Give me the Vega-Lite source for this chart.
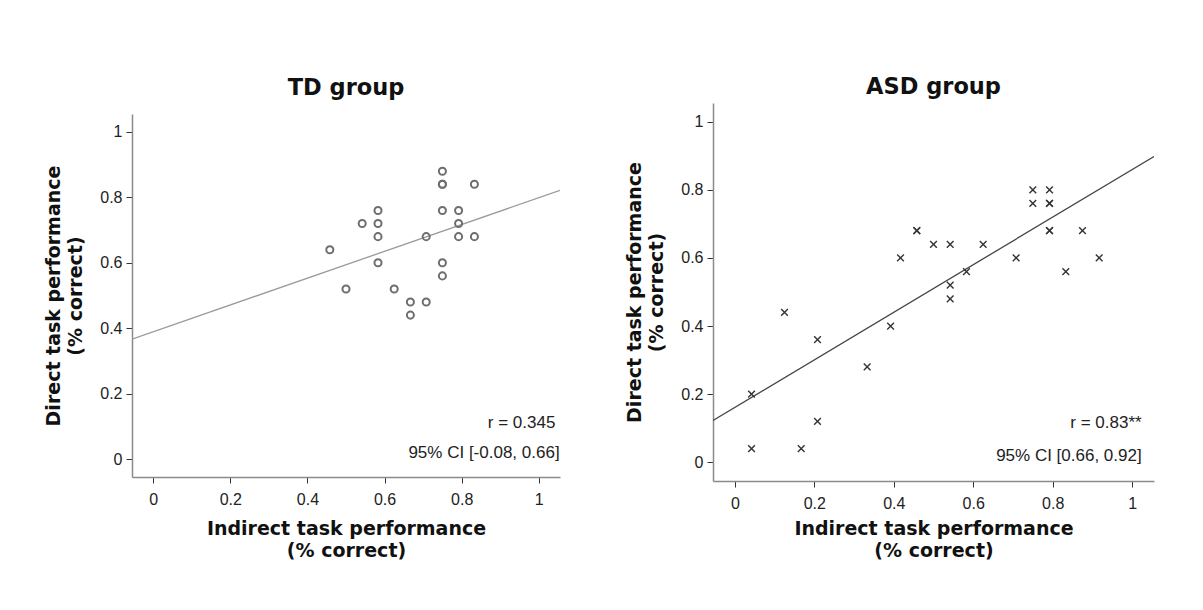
{
  "$schema": "https://vega.github.io/schema/vega-lite/v6.json",
  "background": "white",
  "padding": {"left": 44, "top": 75, "right": 5, "bottom": 5},
  "spacing": 65,
  "config": {
    "view": {"stroke": null},
    "axis": {
      "grid": false,
      "domainColor": "#8a8a8a",
      "domainWidth": 1.5,
      "tickColor": "#333333",
      "tickSize": 6,
      "labelFont": "Liberation Sans",
      "labelFontSize": 16,
      "labelColor": "#222222",
      "titleFont": "DejaVu Sans",
      "titleFontWeight": "bold",
      "titleFontSize": 19,
      "titleColor": "#111111",
      "titleLineHeight": 22
    },
    "title": {"font": "DejaVu Sans", "fontSize": 22.5, "fontWeight": "bold", "color": "#111111", "anchor": "middle"}
  },
  "datasets": {
    "td": [
      {"indirect": 0.458, "direct": 0.64},
      {"indirect": 0.5, "direct": 0.52},
      {"indirect": 0.542, "direct": 0.72},
      {"indirect": 0.583, "direct": 0.76},
      {"indirect": 0.583, "direct": 0.72},
      {"indirect": 0.583, "direct": 0.68},
      {"indirect": 0.583, "direct": 0.6},
      {"indirect": 0.625, "direct": 0.52},
      {"indirect": 0.667, "direct": 0.48},
      {"indirect": 0.667, "direct": 0.44},
      {"indirect": 0.708, "direct": 0.68},
      {"indirect": 0.708, "direct": 0.48},
      {"indirect": 0.75, "direct": 0.88},
      {"indirect": 0.75, "direct": 0.84},
      {"indirect": 0.75, "direct": 0.84},
      {"indirect": 0.75, "direct": 0.76},
      {"indirect": 0.75, "direct": 0.6},
      {"indirect": 0.75, "direct": 0.56},
      {"indirect": 0.792, "direct": 0.76},
      {"indirect": 0.792, "direct": 0.72},
      {"indirect": 0.792, "direct": 0.68},
      {"indirect": 0.833, "direct": 0.84},
      {"indirect": 0.833, "direct": 0.68}
    ],
    "asd": [
      {"indirect": 0.042, "direct": 0.2},
      {"indirect": 0.042, "direct": 0.04},
      {"indirect": 0.125, "direct": 0.44},
      {"indirect": 0.167, "direct": 0.04},
      {"indirect": 0.208, "direct": 0.36},
      {"indirect": 0.208, "direct": 0.12},
      {"indirect": 0.333, "direct": 0.28},
      {"indirect": 0.392, "direct": 0.4},
      {"indirect": 0.417, "direct": 0.6},
      {"indirect": 0.458, "direct": 0.68},
      {"indirect": 0.458, "direct": 0.68},
      {"indirect": 0.5, "direct": 0.64},
      {"indirect": 0.542, "direct": 0.64},
      {"indirect": 0.542, "direct": 0.52},
      {"indirect": 0.542, "direct": 0.48},
      {"indirect": 0.583, "direct": 0.56},
      {"indirect": 0.625, "direct": 0.64},
      {"indirect": 0.708, "direct": 0.6},
      {"indirect": 0.75, "direct": 0.8},
      {"indirect": 0.75, "direct": 0.76},
      {"indirect": 0.792, "direct": 0.8},
      {"indirect": 0.792, "direct": 0.76},
      {"indirect": 0.792, "direct": 0.76},
      {"indirect": 0.792, "direct": 0.68},
      {"indirect": 0.792, "direct": 0.68},
      {"indirect": 0.833, "direct": 0.56},
      {"indirect": 0.875, "direct": 0.68},
      {"indirect": 0.917, "direct": 0.6}
    ],
    "tdline": [
      {"indirect": -0.055, "direct": 0.3665},
      {"indirect": 1.055, "direct": 0.8216}
    ],
    "asdline": [
      {"indirect": -0.055, "direct": 0.1226},
      {"indirect": 1.055, "direct": 0.898}
    ],
    "tdnote": [
      {"indirect": 1.043, "direct": 0.095, "label": "r = 0.345"},
      {"indirect": 1.054, "direct": 0.003, "label": "95% CI [-0.08, 0.66]"}
    ],
    "asdnote": [
      {"indirect": 1.024, "direct": 0.1, "label": "r = 0.83**"},
      {"indirect": 1.024, "direct": 0.004, "label": "95% CI [0.66, 0.92]"}
    ]
  },
  "hconcat": [
    {
      "title": {"text": "TD group", "offset": 4},
      "width": 428,
      "height": 374,
      "encoding": {
        "x": {"field": "indirect", "type": "quantitative", "scale": {"domain": [-0.055, 1.055], "nice": false, "zero": false},
              "axis": {"title": ["Indirect task performance", "(% correct)"], "values": [0, 0.2, 0.4, 0.6, 0.8, 1], "format": "~g", "labelFontSize": 16, "labelPadding": 8, "titlePadding": 12}},
        "y": {"field": "direct", "type": "quantitative", "scale": {"domain": [-0.055, 1.055], "nice": false, "zero": false, "range": [374, 11]},
              "axis": {"title": ["Direct task performance", "(% correct)"], "values": [0, 0.2, 0.4, 0.6, 0.8, 1], "format": "~g", "labelFontSize": 16, "labelPadding": 4, "titlePadding": 14}}
      },
      "layer": [
        {"data": {"name": "tdline"}, "mark": {"type": "line", "color": "#9a9a9a", "strokeWidth": 1.3, "clip": true}},
        {"data": {"name": "td"}, "mark": {"type": "point", "shape": "circle", "filled": false, "size": 50, "stroke": "#6e6e6e", "strokeWidth": 2, "opacity": 1}},
        {"data": {"name": "tdnote"}, "mark": {"type": "text", "align": "right", "baseline": "alphabetic", "font": "Liberation Sans", "fontSize": 17, "color": "#222222"},
         "encoding": {"text": {"field": "label"}}}
      ]
    },
    {
      "title": {"text": "ASD group", "offset": 5},
      "width": 441,
      "height": 378,
      "encoding": {
        "x": {"field": "indirect", "type": "quantitative", "scale": {"domain": [-0.055, 1.055], "nice": false, "zero": false},
              "axis": {"title": ["Indirect task performance", "(% correct)"], "values": [0, 0.2, 0.4, 0.6, 0.8, 1], "format": "~g", "labelFontSize": 16, "labelPadding": 8, "titlePadding": 8}},
        "y": {"field": "direct", "type": "quantitative", "scale": {"domain": [-0.055, 1.055], "nice": false, "zero": false},
              "axis": {"title": ["Direct task performance", "(% correct)"], "values": [0, 0.2, 0.4, 0.6, 0.8, 1], "format": "~g", "labelFontSize": 16, "labelPadding": 4, "titlePadding": 14}}
      },
      "layer": [
        {"data": {"name": "asdline"}, "mark": {"type": "line", "color": "#444444", "strokeWidth": 1.3, "clip": true}},
        {"data": {"name": "asd"}, "mark": {"type": "point", "shape": "M-1,-1L1,1M-1,1L1,-1", "filled": false, "size": 45, "stroke": "#333333", "strokeWidth": 1.4, "opacity": 1}},
        {"data": {"name": "asdnote"}, "mark": {"type": "text", "align": "right", "baseline": "alphabetic", "font": "Liberation Sans", "fontSize": 17, "color": "#222222"},
         "encoding": {"text": {"field": "label"}}}
      ]
    }
  ]
}
